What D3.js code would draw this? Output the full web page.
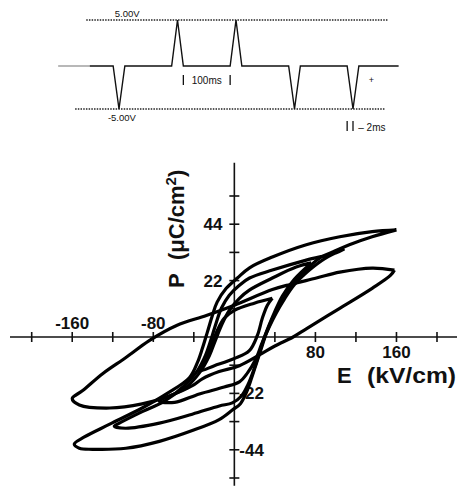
<!DOCTYPE html>
<html>
<head>
<meta charset="utf-8">
<script src="https://cdn.jsdelivr.net/npm/d3@7"></script>
<style>
  body { margin: 0; background: #fff; }
  svg { display: block; }
  text { font-family: "Liberation Sans", Arial, sans-serif; fill: #111; }
</style>
</head>
<body>
<div id="chart"></div>
<script>
// pulse train (top)
const pulseTimes = [0, 100, 200, 300, 400];     // ms
const pulseLevels = [-5, 5, 5, -5, -5];         // V
const voltLabels = ["5.00V", "-5.00V"];

// axis ticks
const eTicks = [-200, -160, -120, -80, -40, 40, 80, 120, 160, 200];
const eLabels = [-160, -80, 80, 160];
const pTicks = [-55, -44, -33, -22, -11, 11, 22, 33, 44, 55];
const pLabels = [44, 22, -22, -44];

// hysteresis loops: [E (kV/cm), P (uC/cm2)], upper branch right->left, lower branch left->right
const loopA_upper = [[160,41.8],[136,41.1],[104,39.1],[71,36],[37.5,31.2],[15,27],[3,23],[-8,19],[-17,13.6],[-21.7,8.4],[-26.7,1.8],[-31.6,-4.5],[-36.5,-10],[-44.4,-15.9],[-67,-22.2],[-91,-27.7],[-123,-34],[-148,-39],[-158,-41.8]];
const loopA_lower = [[-153,-43.4],[-140,-43.8],[-107,-43.4],[-74,-40.7],[-41.5,-36.5],[-15,-32.2],[-2,-28.5],[6,-26],[12,-21.5],[17,-16],[22,-10],[27,-4],[32,2],[38,7.5],[45,12.5],[54,18.3],[64,23.4],[76,28.1],[84,30.8],[97,33.2],[113.5,36],[136,39.1],[160,41.8]];

const loopB_upper = [[158,26.1],[136,26.9],[104,25.3],[81,23],[55,20.5],[37.5,18.5],[0,12.4],[-27.6,8.4],[-57,4.5],[-84,-1.4],[-107,-8],[-130,-14.3],[-150,-21],[-160,-24]];
const loopB_lower = [[-153,-26.5],[-123,-27.7],[-91,-26.1],[-64,-23],[-41.5,-19],[-31.6,-16.3],[-15,-13.5],[5,-11.2],[24.7,-7],[40,-3.5],[58,0],[71,3.2],[104,11.2],[136,19],[154,24],[158,26.1]];

const loopC_upper = [[108.6,34.4],[100,32.8],[71,30],[37.5,26.1],[15,23],[5,20.2],[-5,16.3],[-12.8,11.2],[-17.8,5.7],[-22.7,-0.6],[-28.6,-7.3],[-36.5,-13.2],[-49.4,-19],[-69,-25],[-94,-29.7],[-113.5,-33.6],[-118.5,-34.8]];
const loopC_lower = [[-107.6,-35.6],[-74,-33.6],[-41.5,-30.1],[-14.8,-26.9],[-2,-25.7],[7,-23],[13.5,-18.5],[19,-13],[24,-7],[29,-1],[34.5,4],[41.5,9.5],[49.4,14.8],[59.2,20.4],[74,26.1],[88.8,30.5],[108.6,34.4]];

const loopD_upper = [[76,28.9],[61,27.3],[37.5,23],[14.8,18.3],[5,15.1],[-5,10.4],[-12.8,4.5],[-18.8,-1.4],[-24.7,-7.3],[-34.5,-14],[-49.4,-20.2],[-74,-25]];
const loopD_lower = [[-59,-25.5],[-34.5,-22.2],[-10,-19.5],[5,-17.5],[13,-14],[20.7,-9],[26.7,-3],[32.6,3],[39.5,9.5],[47.4,16],[59.2,22.5],[76,28.9]];

const loopE_upper = [[37.5,15.1],[19.7,13.2],[0,10.4],[-10,7.3],[-16.8,2.6],[-22.7,-3.3],[-28.6,-9.2],[-34.5,-13.2]];
const loopE_lower = [[-19.7,-11.2],[0,-8.4],[14.8,-5.3],[22.7,0.6],[27.6,7.3],[32.6,12.4],[37.5,15.1]];

const loops = [
  loopA_upper.concat(loopA_lower),
  loopB_upper.concat(loopB_lower),
  loopC_upper.concat(loopC_lower),
  loopD_upper.concat(loopD_lower),
  loopE_upper.concat(loopE_lower)
];

const width = 457, height = 489;

const svg = d3.select("#chart").append("svg")
  .attr("width", width)
  .attr("height", height)
  .attr("viewBox", [0, 0, width, height]);

svg.append("rect").attr("width", width).attr("height", height).attr("fill", "#fff");

// ---------- pulse diagram ----------
const tScale = d3.scaleLinear().domain([0, 100]).range([119, 177.5]);
const vScale = d3.scaleLinear().domain([-5, 0, 5]).range([109, 66, 20]);
const halfW = 10; // ms, half base of each triangle

const pulseG = svg.append("g");

pulseG.append("line")
  .attr("x1", tScale(-56)).attr("x2", tScale(460))
  .attr("y1", vScale(5)).attr("y2", vScale(5))
  .attr("stroke", "#222").attr("stroke-width", 1.3)
  .attr("stroke-dasharray", "1.5,1.2");

pulseG.append("line")
  .attr("x1", tScale(-75)).attr("x2", tScale(455))
  .attr("y1", vScale(-5)).attr("y2", vScale(-5))
  .attr("stroke", "#222").attr("stroke-width", 1.3)
  .attr("stroke-dasharray", "1.5,1.2");

pulseG.append("line")
  .attr("x1", tScale(-104)).attr("x2", tScale(-50))
  .attr("y1", vScale(0)).attr("y2", vScale(0))
  .attr("stroke", "#888").attr("stroke-width", 1.2);

const pulsePath = [[tScale(-50), vScale(0)]];
pulseTimes.forEach((t, i) => {
  pulsePath.push([tScale(t - halfW), vScale(0)]);
  pulsePath.push([tScale(t), vScale(pulseLevels[i])]);
  pulsePath.push([tScale(t + halfW), vScale(0)]);
});
pulsePath.push([tScale(478), vScale(0)]);

pulseG.append("path")
  .attr("d", d3.line()(pulsePath))
  .attr("fill", "none")
  .attr("stroke", "#111")
  .attr("stroke-width", 1.4)
  .attr("stroke-linejoin", "miter");

pulseG.append("text")
  .attr("x", tScale(14)).attr("y", vScale(5) - 3)
  .attr("font-size", 9.5).attr("text-anchor", "middle")
  .text(voltLabels[0]);

pulseG.append("text")
  .attr("x", tScale(5)).attr("y", vScale(-5) + 12)
  .attr("font-size", 9.5).attr("text-anchor", "middle")
  .text(voltLabels[1]);

// 100ms marker
pulseG.append("line").attr("x1", tScale(110)).attr("x2", tScale(110))
  .attr("y1", 75).attr("y2", 85).attr("stroke", "#111").attr("stroke-width", 1.3);
pulseG.append("line").attr("x1", tScale(190)).attr("x2", tScale(190))
  .attr("y1", 75).attr("y2", 85).attr("stroke", "#111").attr("stroke-width", 1.3);
pulseG.append("text")
  .attr("x", tScale(150)).attr("y", 84)
  .attr("font-size", 10).attr("text-anchor", "middle")
  .text("100ms");

// 2ms marker
pulseG.append("line").attr("x1", tScale(390)).attr("x2", tScale(390))
  .attr("y1", 121).attr("y2", 131).attr("stroke", "#111").attr("stroke-width", 1.3);
pulseG.append("line").attr("x1", tScale(400)).attr("x2", tScale(400))
  .attr("y1", 121).attr("y2", 131).attr("stroke", "#111").attr("stroke-width", 1.3);
pulseG.append("text")
  .attr("x", tScale(409)).attr("y", 131)
  .attr("font-size", 10)
  .text("– 2ms");
pulseG.append("text")
  .attr("x", tScale(427)).attr("y", 83)
  .attr("font-size", 9)
  .text("+");

// ---------- P-E loops ----------
const x = d3.scaleLinear().domain([-200, 200]).range([31.7, 437]);
const y = d3.scaleLinear().domain([-55, 55]).range([478, 196]);

const axes = svg.append("g").attr("stroke", "#111").attr("stroke-width", 1.6);

axes.append("line")
  .attr("x1", 10).attr("x2", width)
  .attr("y1", y(0)).attr("y2", y(0));
axes.append("line")
  .attr("x1", x(0)).attr("x2", x(0))
  .attr("y1", y(68)).attr("y2", y(-58));

axes.selectAll(".etick").data(eTicks).join("line")
  .attr("x1", d => x(d)).attr("x2", d => x(d))
  .attr("y1", y(0) - 5).attr("y2", y(0) + 5);

axes.selectAll(".ptick").data(pTicks).join("line")
  .attr("x1", x(0) - 5).attr("x2", x(0) + 5)
  .attr("y1", d => y(d)).attr("y2", d => y(d));

const labels = svg.append("g")
  .attr("font-size", 17).attr("font-weight", "bold");

labels.selectAll(".el").data(eLabels).join("text")
  .attr("x", d => x(d))
  .attr("y", d => d < 0 ? y(0) - 8 : y(0) + 21)
  .attr("text-anchor", "middle")
  .text(d => d);

labels.selectAll(".pl").data(pLabels).join("text")
  .attr("x", d => d > 0 ? x(0) - 12 : x(0) + 5)
  .attr("y", d => y(d) + 6)
  .attr("text-anchor", d => d > 0 ? "end" : "start")
  .text(d => d);

// E axis title
const eTitle = svg.append("g").attr("font-size", 22).attr("font-weight", "bold");
eTitle.append("text").attr("x", 337).attr("y", 383).text("E");
eTitle.append("text").attr("x", 367).attr("y", 383)
  .attr("textLength", 89).attr("lengthAdjust", "spacingAndGlyphs")
  .text("(kV/cm)");

// P axis title (rotated)
const pTitle = svg.append("g")
  .attr("transform", "translate(184,288) rotate(-90)")
  .attr("font-size", 22).attr("font-weight", "bold");
pTitle.append("text").attr("x", 0).attr("y", 0).text("P");
const pUnit = pTitle.append("text").attr("x", 28).attr("y", 0);
pUnit.append("tspan").text("(μC/cm");
pUnit.append("tspan").attr("font-size", 15).attr("dy", -8).text("2");
pUnit.append("tspan").attr("dy", 8).text(")");

const line = d3.line()
  .x(d => x(d[0]))
  .y(d => y(d[1]))
  .curve(d3.curveCatmullRom.alpha(0.5));

svg.append("g")
  .selectAll("path")
  .data(loops)
  .join("path")
  .attr("d", line)
  .attr("fill", "none")
  .attr("stroke", "#000")
  .attr("stroke-width", 3.2)
  .attr("stroke-linejoin", "round");
</script>
</body>
</html>
